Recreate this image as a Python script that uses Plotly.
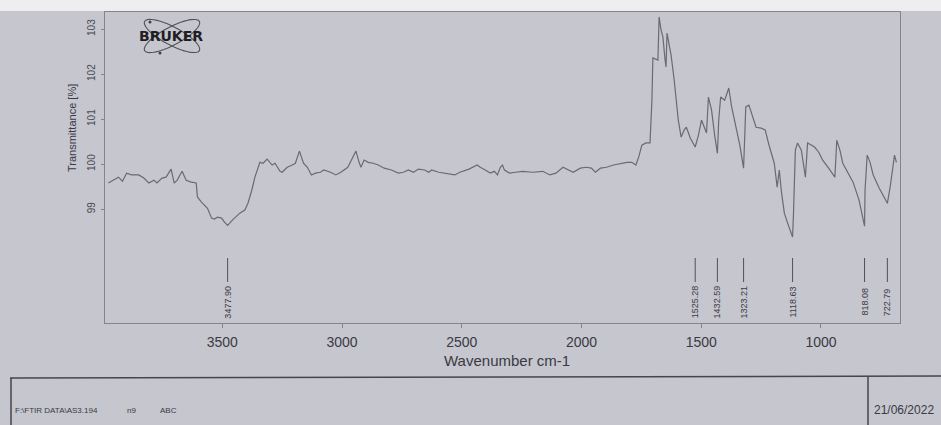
import numpy as np
import plotly.graph_objects as go

# FTIR spectrum (wavenumber in cm-1, transmittance in %)
wavenumber = [
    3976, 3959, 3934, 3917, 3900, 3879, 3849, 3828, 3807, 3786, 3773, 3752, 3735, 3714,
    3701, 3689, 3668, 3651, 3630, 3609, 3604, 3588, 3575, 3562, 3545, 3533, 3520, 3503,
    3491, 3477.90, 3457, 3440, 3427, 3406, 3393, 3377, 3364, 3343, 3330, 3313, 3292, 3280,
    3259, 3250, 3229, 3208, 3195, 3178, 3161, 3145, 3128, 3111, 3090, 3077, 3048, 3026,
    3005, 2976, 2955, 2942, 2929, 2921, 2908, 2891, 2870, 2849, 2824, 2794, 2765, 2744,
    2723, 2702, 2681, 2655, 2638, 2626, 2596, 2571, 2550, 2529, 2508, 2470, 2436, 2423,
    2402, 2381, 2364, 2351, 2339, 2330, 2322, 2301, 2275, 2246, 2204, 2162, 2132, 2107,
    2077, 2056, 2035, 2005, 1980, 1959, 1942, 1921, 1896, 1866, 1837, 1811, 1790, 1773,
    1761, 1748, 1731, 1714, 1706, 1702, 1681, 1676, 1668, 1660, 1651, 1647, 1643, 1634,
    1626, 1613, 1605, 1596, 1584, 1571, 1562, 1546, 1525.28, 1512, 1499, 1487, 1478, 1470,
    1457, 1444, 1432.59, 1427, 1419, 1402, 1385, 1373, 1356, 1339, 1323.21, 1314, 1301, 1284,
    1271, 1250, 1233, 1217, 1195, 1183, 1174, 1166, 1153, 1136, 1118.63, 1115, 1111, 1107,
    1098, 1082, 1065, 1056, 1039, 1027, 1010, 993, 968, 942, 934, 921, 909, 887,
    866, 841, 818.08, 816, 807, 795, 782, 757, 722.79, 710, 702, 693, 685,
]
transmittance = [
    99.58, 99.64, 99.71, 99.62, 99.80, 99.76, 99.76, 99.69, 99.58, 99.64, 99.58, 99.69, 99.71, 99.89,
    99.58, 99.64, 99.84, 99.64, 99.60, 99.58, 99.27, 99.16, 99.09, 99.02, 98.80, 98.78, 98.82, 98.80,
    98.71, 98.64, 98.76, 98.84, 98.91, 98.98, 99.13, 99.42, 99.71, 100.04, 100.02, 100.11, 99.98, 100.02,
    99.84, 99.82, 99.93, 99.98, 100.02, 100.29, 100.02, 99.93, 99.76, 99.80, 99.82, 99.87, 99.82, 99.76,
    99.82, 99.93, 100.16, 100.29, 100.04, 99.93, 100.09, 100.04, 100.02, 99.98, 99.91, 99.87, 99.80, 99.82,
    99.87, 99.82, 99.89, 99.87, 99.82, 99.87, 99.82, 99.80, 99.78, 99.76, 99.82, 99.89, 99.98, 99.93,
    99.87, 99.80, 99.84, 99.76, 99.93, 99.98, 99.87, 99.80, 99.82, 99.84, 99.82, 99.84, 99.76, 99.80,
    99.93, 99.87, 99.82, 99.91, 99.93, 99.91, 99.82, 99.91, 99.93, 99.98, 100.02, 100.04, 100.04, 99.98,
    100.16, 100.42, 100.47, 100.47, 101.42, 102.36, 102.31, 103.27, 102.98, 102.82, 102.31, 102.16, 102.91, 102.64,
    102.42, 101.87, 101.42, 100.98, 100.60, 100.76, 100.82, 100.58, 100.38, 100.64, 100.98, 100.80, 100.69, 101.49,
    101.20, 100.64, 100.24, 100.98, 101.49, 101.42, 101.69, 101.27, 100.87, 100.42, 99.91, 101.27, 101.31, 101.02,
    100.82, 100.80, 100.76, 100.42, 100.02, 99.49, 99.87, 99.42, 98.91, 98.64, 98.38, 98.87, 99.64, 100.31,
    100.47, 100.31, 99.71, 100.47, 100.42, 100.38, 100.27, 100.09, 99.91, 99.71, 100.53, 100.31, 100.02, 99.82,
    99.60, 99.20, 98.62, 99.42, 100.20, 100.04, 99.76, 99.47, 99.13, 99.53, 99.87, 100.20, 100.04,
]

# Picked peaks
peak_positions = [3477.90, 1525.28, 1432.59, 1323.21, 1118.63, 818.08, 722.79]
peak_labels = ["3477.90", "1525.28", "1432.59", "1323.21", "1118.63", "818.08", "722.79"]

x_ticks = [3500, 3000, 2500, 2000, 1500, 1000]
y_ticks = [99, 100, 101, 102, 103]

footer_fields = ["F:\\FTIR DATA\\AS3.194", "n9", "ABC"]
footer_date = "21/06/2022"

# page geometry (pixels)
W, H = 941, 425
PL, PR, PT, PB = 105, 900, 12, 323

PAPER = "#c6c6cf"
INK = "#3a3a42"
LINE = "#6a6a74"


def paper_xy(x, y):
    return (x - PL) / (PR - PL), (PB - y) / (PB - PT)


fig = go.Figure()
fig.add_trace(go.Scatter(
    x=wavenumber, y=transmittance, mode="lines",
    line=dict(color=LINE, width=1.2), hoverinfo="skip", showlegend=False,
))

shapes = []
annotations = []

# white strip at the top edge of the sheet
shapes.append(dict(type="rect", xref="paper", yref="paper",
                   x0=paper_xy(0, 0)[0], x1=paper_xy(W, 0)[0],
                   y0=paper_xy(0, 0)[1], y1=paper_xy(0, PT - 1)[1],
                   fillcolor="#eeeef0", line=dict(width=0), layer="below"))

# peak markers with rotated wavenumber labels
for pos, lab in zip(peak_positions, peak_labels):
    shapes.append(dict(type="line", xref="x", yref="paper", x0=pos, x1=pos,
                       y0=paper_xy(0, 258)[1], y1=paper_xy(0, 282)[1],
                       line=dict(color="#505058", width=1)))
    annotations.append(dict(x=pos, xref="x", y=paper_xy(0, 302)[1], yref="paper",
                            text=lab, textangle=-90, showarrow=False,
                            xanchor="center", yanchor="middle",
                            font=dict(family="Liberation Sans", size=9, color=INK)))

# Bruker logo: two crossing orbits behind the word mark
cx, cy = 172, 36
t = np.linspace(0, 2 * np.pi, 60)
for ang in (28, -28):
    a, b = 31, 9
    th = np.radians(ang)
    ex = cx + a * np.cos(t) * np.cos(th) - b * np.sin(t) * np.sin(th)
    ey = cy + a * np.cos(t) * np.sin(th) + b * np.sin(t) * np.cos(th)
    pts = [paper_xy(x, y) for x, y in zip(ex, ey)]
    path = "M " + " L ".join(f"{px:.5f},{py:.5f}" for px, py in pts) + " Z"
    shapes.append(dict(type="path", xref="paper", yref="paper", path=path,
                       line=dict(color="#505058", width=1.1)))
for dx, dy in ((150, 22), (160, 53)):
    px0, py0 = paper_xy(dx - 1.5, dy - 1.5)
    px1, py1 = paper_xy(dx + 1.5, dy + 1.5)
    shapes.append(dict(type="circle", xref="paper", yref="paper",
                       x0=px0, x1=px1, y0=py0, y1=py1,
                       fillcolor="#404048", line=dict(width=0)))
lx, ly = paper_xy(171, 36)
annotations.append(dict(x=lx, y=ly, xref="paper", yref="paper", text="<b>BRUKER</b>",
                        showarrow=False, xanchor="center", yanchor="middle",
                        font=dict(family="DejaVu Sans", size=14, color="#1e1e24")))

# axis titles
tx, ty = paper_xy(507, 360)
annotations.append(dict(x=tx, y=ty, xref="paper", yref="paper", text="Wavenumber cm-1",
                        showarrow=False, xanchor="center", yanchor="middle",
                        font=dict(family="Liberation Sans", size=15, color=INK)))
tx, ty = paper_xy(72, 128)
annotations.append(dict(x=tx, y=ty, xref="paper", yref="paper", text="Transmittance [%]",
                        showarrow=False, textangle=-90, xanchor="center", yanchor="middle",
                        font=dict(family="Liberation Sans", size=11, color=INK)))

# footer block
fy = 378
for x0, y0, x1, y1 in ((10, fy, W, fy - 2), (11, fy, 11, H), (868, fy - 1, 868, H)):
    p0 = paper_xy(x0, y0)
    p1 = paper_xy(x1, y1)
    shapes.append(dict(type="line", xref="paper", yref="paper",
                       x0=p0[0], y0=p0[1], x1=p1[0], y1=p1[1],
                       line=dict(color="#45454d", width=1.5)))
for text, xpos in zip(footer_fields, (13, 125, 158)):
    px0, py0 = paper_xy(xpos, 410)
    annotations.append(dict(x=px0, y=py0, xref="paper", yref="paper", text=text,
                            showarrow=False, xanchor="left", yanchor="middle",
                            font=dict(family="Liberation Sans", size=8, color=INK)))
px0, py0 = paper_xy(872, 410)
annotations.append(dict(x=px0, y=py0, xref="paper", yref="paper", text=footer_date,
                        showarrow=False, xanchor="left", yanchor="middle",
                        font=dict(family="Liberation Sans", size=12, color=INK)))

fig.update_layout(
    width=W, height=H,
    margin=dict(l=PL, r=W - PR, t=PT, b=H - PB),
    paper_bgcolor=PAPER, plot_bgcolor=PAPER,
    shapes=shapes, annotations=annotations,
    xaxis=dict(range=[3990, 670], tickvals=x_ticks, ticktext=[str(v) for v in x_ticks],
               showgrid=False, zeroline=False, showline=True, mirror=True,
               linecolor="#84848e", linewidth=1, ticks="outside", ticklen=4,
               tickcolor="#84848e", ticklabelstandoff=2,
               tickfont=dict(family="Liberation Sans", size=14, color=INK)),
    yaxis=dict(range=[96.47, 103.38], tickvals=y_ticks, ticktext=[str(v) for v in y_ticks],
               showgrid=False, zeroline=False, showline=True, mirror=True,
               linecolor="#84848e", linewidth=1, ticks="outside", ticklen=3,
               tickcolor="#84848e", tickangle=-90, ticklabelstandoff=2,
               tickfont=dict(family="Liberation Sans", size=10, color="#4a4a52")),
)

fig.write_html("out.html")
